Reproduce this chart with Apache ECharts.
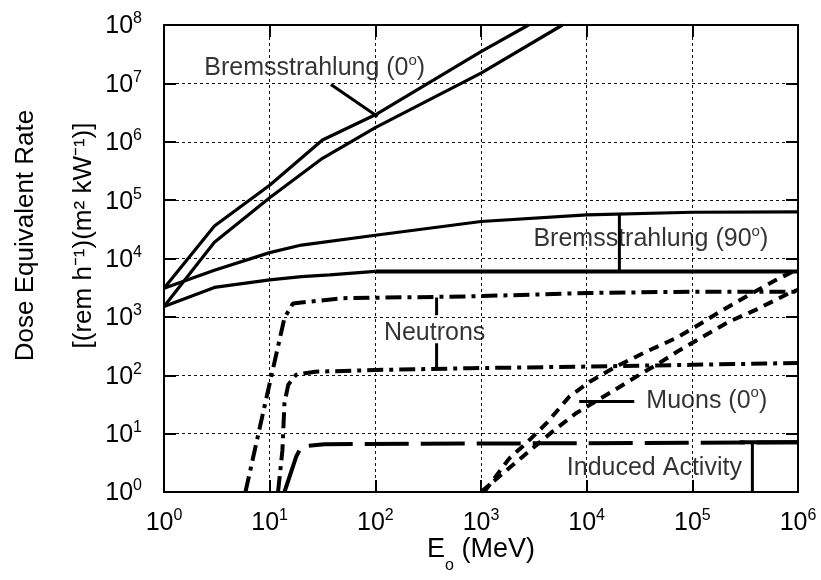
<!DOCTYPE html>
<html>
<head>
<meta charset="utf-8">
<script src="https://cdn.jsdelivr.net/npm/echarts@6/dist/echarts.min.js"></script>
<style>html,body{margin:0;padding:0;background:#fff;}#c{width:821px;height:580px;}</style>
</head>
<body>
<div id="c"></div>
<script>
// ---- data (E in MeV, dose equivalent rate) ----
const E_brems0Upper = [1, 3, 10, 31.6, 100, 1000, 2820];
const D_brems0Upper = [3090, 36000, 180000, 1070000, 2900000, 35000000, 100000000];
const E_brems0Lower = [1, 3, 10, 31.6, 100, 1000, 5900];
const D_brems0Lower = [1500, 19000, 110000, 520000, 1750000, 15000000, 100000000];
const E_brems90Upper = [1, 3, 10, 20, 100, 1000, 10000, 100000, 1000000];
const D_brems90Upper = [3090, 6300, 12600, 17000, 25000, 43000, 56000, 62000, 63000];
const E_brems90Lower = [1, 3, 10, 20, 37, 100];
const D_brems90Lower = [1500, 3200, 4300, 4900, 5250, 6000];
const E_brems90LowerFlat = [100, 1000000];
const D_brems90LowerFlat = [6000, 6000];
const E_neutronUpper = [5.9, 9, 13.8, 16.6, 49, 776, 10700, 100000, 1000000];
const D_neutronUpper = [1, 31, 955, 1700, 2090, 2240, 2570, 2700, 2700];
const E_neutronLower = [12, 13.2, 13.8, 15, 17.8, 27, 100, 776, 10700, 100000, 1000000];
const D_neutronLower = [1, 5.2, 33, 69, 102, 115, 123, 132, 141, 151, 162];
const E_induced = [13.8, 17.9, 20, 33, 1000000];
const D_induced = [1, 4.1, 6.0, 6.6, 7.1];
const E_muonUpper = [1070, 1860, 2690, 4170, 6900, 10700, 19000, 36300, 70800, 107000, 195000, 324000, 617000, 900000];
const D_muonUpper = [1, 3.8, 6.9, 15.1, 43.6, 77.6, 141, 251, 437, 676, 1320, 2240, 4270, 6000];
const E_muonLower = [1000, 1620, 2510, 4790, 7940, 16600, 31600, 45700, 75900, 126000, 224000, 398000, 832000, 1000000];
const D_muonLower = [1, 2.1, 4.1, 11, 22.4, 50, 102, 151, 269, 457, 832, 1320, 2570, 2900];

// annotation leader lines / brackets (data space)
const E_brems0Pointer = [38, 105];
const D_brems0Pointer = [9600000, 2700000];
const E_brems90Bracket = [20400, 20400];
const D_brems90Bracket = [57500, 6000];
const E_neutronBracketTop = [380, 380];
const D_neutronBracketTop = [2150, 1070];
const E_neutronBracketBottom = [380, 380];
const D_neutronBracketBottom = [355, 126];
const E_muonPointer = [8500, 28200];
const D_muonPointer = [35.5, 35.5];
const E_inducedBracket = [370000, 370000];
const D_inducedBracket = [7.1, 1];
const E_inducedCap = [280000, 1000000];
const D_inducedCap = [7.1, 7.1];

// annotation texts and anchors (data space)
const annotationTexts = [
  'Bremsstrahlung (0{s|o})',
  'Bremsstrahlung (90{s|o})',
  'Neutrons',
  'Muons (0{s|o})',
  'Induced Activity'
];
const annotationE = [26.7, 40500, 364, 137000, 43700];
const annotationD = [19000000, 22500, 565, 37.9, 2.74];

const xTicks = [1, 10, 100, 1000, 10000, 100000, 1000000];
const yTicks = [1, 10, 100, 1000, 10000, 100000, 1000000, 10000000, 100000000];

// ---- chart ----
const FONT = 'Liberation Sans';
function pairs(E, D) { return E.map((e, i) => [e, D[i]]); }
function powLabel(v) {
  const e = Math.round(Math.log10(v));
  return '{b|10}{s|' + e + '}';
}
const tickRich = {
  b: { fontSize: 25, fontFamily: FONT, color: '#000', lineHeight: 28, verticalAlign: 'bottom' },
  s: { fontSize: 16, fontFamily: FONT, color: '#000', lineHeight: 16, verticalAlign: 'top' }
};
function lineSeries(E, D, style) {
  return {
    type: 'line', data: pairs(E, D), showSymbol: false, symbol: 'none', silent: true,
    lineStyle: Object.assign({ color: '#000', width: 3.2, type: 'solid' }, style),
    z: 3, animation: false
  };
}

const chart = echarts.init(document.getElementById('c'), null, { renderer: 'canvas' });

const axisCommon = {
  type: 'log', logBase: 10,
  axisLine: { show: true, lineStyle: { color: '#000', width: 2 } },
  axisTick: { show: true, inside: true, length: 12, lineStyle: { color: '#000', width: 2 } },
  minorTick: { show: false },
  minorSplitLine: { show: false }
};

const annRich = {
  t: { fontSize: 25, fontFamily: FONT, color: '#000', lineHeight: 28, verticalAlign: 'bottom' },
  s: { fontSize: 15, fontFamily: FONT, color: '#000', lineHeight: 15, verticalAlign: 'top' }
};

const annotationSeries = annotationTexts.map((txt, i) => ({
  type: 'scatter', symbolSize: 0, silent: true, z: 5, animation: false,
  data: [[annotationE[i], annotationD[i]]],
  label: {
    show: true, position: 'inside',
    formatter: '{t|' + txt.replace(/\{s\|o\}/g, '}{s|o}{t|') + '}',
    rich: annRich
  }
}));

const option = {
  backgroundColor: '#fff',
  animation: false,
  grid: { left: 164, right: 23, top: 25, bottom: 88, containLabel: false, outerBoundsMode: 'none' },
  xAxis: [
    Object.assign({}, axisCommon, {
      position: 'bottom', min: 1, max: 1000000,
      axisLabel: { show: true, margin: 16, formatter: powLabel, rich: tickRich, showMinLabel: true, showMaxLabel: true },
      splitLine: { show: true, lineStyle: { color: '#111', width: 1, type: [3, 3] } },
      name: '{b|E}{sub|o}{b| (MeV)}',
      nameLocation: 'middle', nameGap: 44, nameMoveOverlap: false,
      nameTextStyle: {
        rich: {
          b: { fontSize: 27, fontFamily: FONT, color: '#000', lineHeight: 28, verticalAlign: 'top' },
          sub: { fontSize: 16, fontFamily: FONT, color: '#000', lineHeight: 16, verticalAlign: 'bottom', padding: [0, 0, -10, 0] }
        }
      }
    }),
    Object.assign({}, axisCommon, {
      position: 'top', min: 1, max: 1000000,
      axisLabel: { show: false }, splitLine: { show: false }
    })
  ],
  yAxis: [
    Object.assign({}, axisCommon, {
      position: 'left', min: 1, max: 100000000,
      axisLabel: { show: true, margin: 22, formatter: powLabel, rich: tickRich, showMinLabel: true, showMaxLabel: true },
      splitLine: { show: true, lineStyle: { color: '#111', width: 1, type: [3, 3] } },
      name: 'Dose Equivalent Rate\n[(rem h\u207B\u00B9)(m\u00B2 kW\u207B\u00B9)]',
      nameLocation: 'middle', nameRotate: 90, nameGap: 109, nameMoveOverlap: false,
      nameTextStyle: {
        fontSize: 26, fontFamily: FONT, color: '#000', lineHeight: 58,
        align: 'center', verticalAlign: 'middle',
        padding: [0, 0, 0, 46]
      }
    }),
    Object.assign({}, axisCommon, {
      position: 'right', min: 1, max: 100000000,
      axisLabel: { show: false }, splitLine: { show: false }
    })
  ],
  series: [
    lineSeries(E_brems0Upper, D_brems0Upper, {}),
    lineSeries(E_brems0Lower, D_brems0Lower, {}),
    lineSeries(E_brems90Upper, D_brems90Upper, {}),
    lineSeries(E_brems90Lower, D_brems90Lower, {}),
    lineSeries(E_brems90LowerFlat, D_brems90LowerFlat, { width: 4 }),
    lineSeries(E_neutronUpper, D_neutronUpper, { width: 4, type: [16, 6, 4, 6] }),
    lineSeries(E_neutronLower, D_neutronLower, { width: 4, type: [16, 6, 4, 6] }),
    lineSeries(E_induced, D_induced, { width: 4, type: [44, 12] }),
    lineSeries(E_muonUpper, D_muonUpper, { width: 4, type: [10, 7] }),
    lineSeries(E_muonLower, D_muonLower, { width: 4, type: [10, 7] }),
    lineSeries(E_brems0Pointer, D_brems0Pointer, { width: 3 }),
    lineSeries(E_brems90Bracket, D_brems90Bracket, { width: 3 }),
    lineSeries(E_neutronBracketTop, D_neutronBracketTop, { width: 3 }),
    lineSeries(E_neutronBracketBottom, D_neutronBracketBottom, { width: 3 }),
    lineSeries(E_muonPointer, D_muonPointer, { width: 3 }),
    lineSeries(E_inducedBracket, D_inducedBracket, { width: 3 }),
    lineSeries(E_inducedCap, D_inducedCap, { width: 4 })
  ].concat(annotationSeries)
};
chart.setOption(option);
</script>
</body>
</html>
